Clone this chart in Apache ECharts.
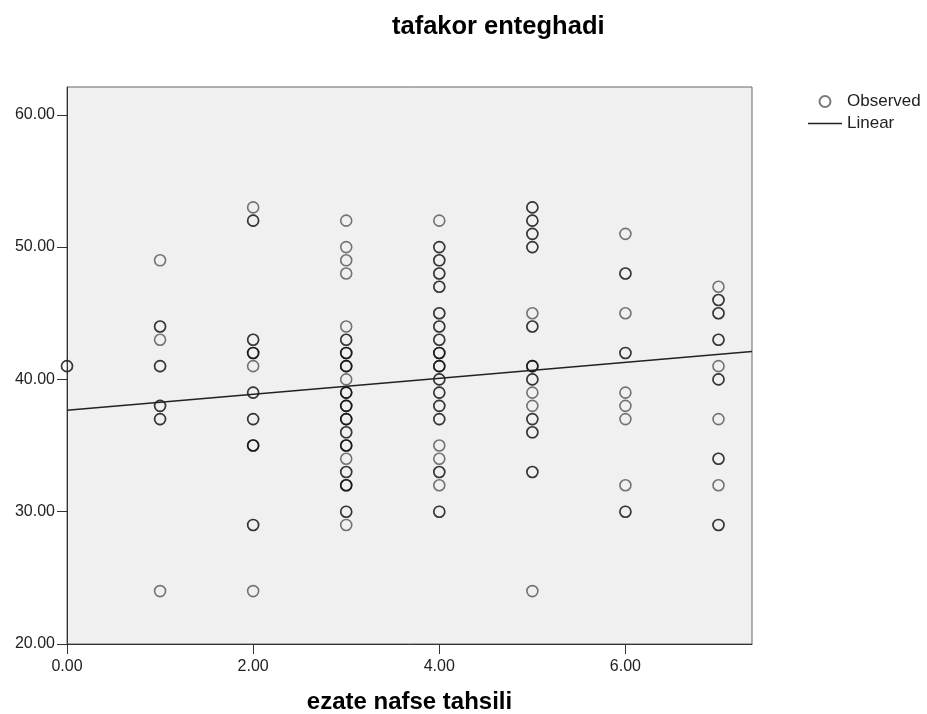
<!DOCTYPE html>
<html>
<head>
<meta charset="utf-8">
<script src="https://cdn.jsdelivr.net/npm/echarts@6/dist/echarts.min.js"></script>
<style>
  html, body { margin: 0; padding: 0; background: #fff; }
  #chart { width: 927px; height: 714px; }
</style>
</head>
<body>
<div id="chart"></div>
<script>
// observed scores per education level (repeated values = overlapping cases)
const level0 = [41, 41];
const level1 = [49, 44, 44, 43, 41, 41, 38, 38, 37, 37, 24];
const level2 = [53, 52, 52, 43, 43, 42, 42, 42, 41, 39, 39, 37, 37, 35, 35, 35, 29, 29, 24];
const level3 = [52, 50, 49, 48, 44, 43, 43, 42, 42, 42, 41, 41, 41, 40, 39, 39, 39, 38, 38, 38,
                37, 37, 37, 36, 36, 35, 35, 35, 34, 33, 33, 32, 32, 32, 30, 30, 29];
const level4 = [52, 50, 50, 49, 49, 48, 48, 47, 47, 45, 45, 44, 44, 43, 43, 42, 42, 42, 41, 41, 41,
                40, 40, 39, 39, 38, 38, 37, 37, 35, 34, 33, 33, 32, 30, 30];
const level5 = [53, 53, 52, 52, 51, 51, 50, 50, 45, 44, 44, 41, 41, 41, 40, 40, 39, 38, 37, 37,
                36, 36, 33, 33, 24];
const level6 = [51, 48, 48, 45, 42, 42, 39, 38, 37, 32, 30, 30];
const level7 = [47, 46, 46, 45, 45, 43, 43, 41, 40, 40, 37, 34, 34, 32, 29, 29];

const levels = [0, 1, 2, 3, 4, 5, 6, 7];
const scores = [level0, level1, level2, level3, level4, level5, level6, level7];

// linear fit line at both ends of the x range
const fitX = [0, 7.36];
const fitY = [37.66, 42.1];

const xTicks = [0, 2, 4, 6];
const yTicks = [20, 30, 40, 50, 60];

const observed = [];
levels.forEach((lv, i) => scores[i].forEach(v => observed.push([lv, v])));
const linear = fitX.map((x, i) => [x, fitY[i]]);

const font = "'Liberation Sans', Arial, sans-serif";
const chart = echarts.init(document.getElementById('chart'));

chart.setOption({
  animation: false,
  title: {
    text: 'tafakor enteghadi',
    left: 387,
    top: 9,
    textStyle: { fontFamily: font, fontSize: 25.5, fontWeight: 'bold', color: '#000' }
  },
  legend: {
    orient: 'vertical',
    left: 803,
    top: 88,
    itemWidth: 34,
    itemHeight: 11,
    itemGap: 5,
    textStyle: { fontFamily: font, fontSize: 17, color: '#222' },
    data: [
      { name: 'Observed', icon: 'circle' },
      { name: 'Linear', icon: 'path://M0,0 H34 V1.6 H0 Z' }
    ]
  },
  grid: {
    left: 67, right: 175, top: 87, bottom: 70,
    outerBoundsMode: 'none',
    show: true,
    backgroundColor: '#f0f0f0',
    borderColor: '#666',
    borderWidth: 1
  },
  xAxis: {
    type: 'value',
    min: 0,
    max: 7.36,
    interval: 2,
    name: 'ezate nafse tahsili',
    nameLocation: 'middle',
    nameGap: 46,
    nameMoveOverlap: false,
    nameTextStyle: { fontFamily: font, fontSize: 24, fontWeight: 'bold', color: '#000' },
    axisLine: { lineStyle: { color: '#333', width: 1 } },
    axisTick: { length: 10, lineStyle: { color: '#333' }, customValues: xTicks },
    axisLabel: { fontFamily: font, fontSize: 16, color: '#222', margin: 15,
                 customValues: xTicks, formatter: v => v.toFixed(2) },
    splitLine: { show: false }
  },
  yAxis: {
    type: 'value',
    min: 20,
    max: 62.1,
    interval: 10,
    z: 3,
    axisLine: { show: true, lineStyle: { color: '#333', width: 1 } },
    axisTick: { show: true, length: 10, lineStyle: { color: '#333' }, customValues: yTicks },
    axisLabel: { fontFamily: font, fontSize: 16, color: '#222', margin: 12,
                 customValues: yTicks, formatter: v => v.toFixed(2) },
    splitLine: { show: false }
  },
  series: [
    {
      name: 'Observed',
      type: 'scatter',
      data: observed,
      symbol: 'circle',
      symbolSize: 11,
      itemStyle: { color: 'rgba(0,0,0,0)', borderColor: 'rgba(0,0,0,0.66)', borderWidth: 1.6 },
      emphasis: { disabled: true }
    },
    {
      name: 'Linear',
      type: 'line',
      data: linear,
      symbol: 'none',
      lineStyle: { color: '#222', width: 1.5 },
      itemStyle: { color: '#222' },
      emphasis: { disabled: true }
    }
  ]
});
</script>
</body>
</html>
